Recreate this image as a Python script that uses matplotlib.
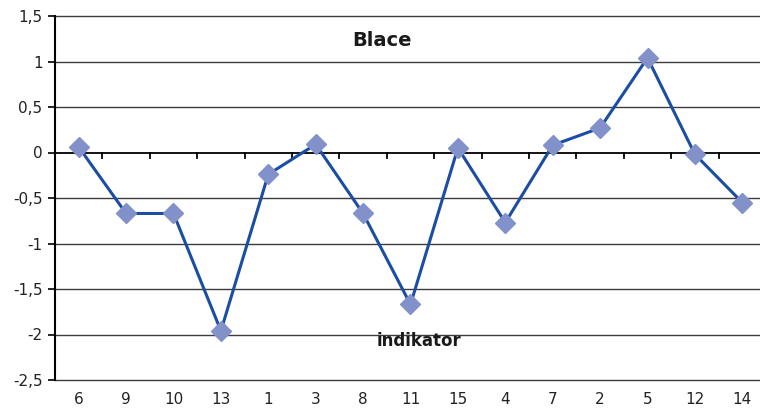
import matplotlib
matplotlib.use("Agg")
import matplotlib.pyplot as plt

# ─── Data ─────────────────────────────────────────────────────────────────────
categories = ["6", "9", "10", "13", "1", "3", "8", "11", "15", "4", "7", "2", "5", "12", "14"]
values = [0.06, -0.67, -0.67, -1.96, -0.24, 0.09, -0.67, -1.67, 0.05, -0.77, 0.08, 0.27, 1.04, -0.02, -0.55]
y_ticks = [-2.5, -2, -1.5, -1, -0.5, 0, 0.5, 1, 1.5]
y_labels = ["-2,5", "-2", "-1,5", "-1", "-0,5", "0", "0,5", "1", "1,5"]

LINE_COLOR = "#1B4DA3"
MARK_COLOR = "#8391CB"

plt.rcParams["font.family"] = ["DejaVu Sans"]

fig = plt.figure(figsize=(7.6, 4.08), dpi=100, facecolor="white")
W, H = 760, 408
# axes run slightly past the right edge of the figure, as in the reference
ax = fig.add_axes([55 / W, (H - 380) / H, 711 / W, (380 - 16) / H])

x = list(range(len(categories)))
ax.plot(x, values, color=LINE_COLOR, lw=2.2, marker="D", markersize=10,
        markerfacecolor=MARK_COLOR, markeredgecolor=MARK_COLOR, zorder=4)

ax.set_xlim(-0.5, len(categories) - 0.5)
ax.set_ylim(-2.5, 1.5)

# gridlines
for yv in y_ticks:
    if yv == 0:
        continue
    ax.axhline(yv, color="#3c3c3c", lw=1.0, zorder=1, clip_on=False)
ax.axhline(0, color="black", lw=1.3, zorder=2)

# category tick marks sit on the zero line
for b in range(1, len(categories)):
    ax.plot([b - 0.5, b - 0.5], [0, -0.06], color="black", lw=1.3, zorder=2, clip_on=False)

ax.set_yticks(y_ticks)
ax.set_yticklabels(y_labels)
ax.set_xticks(x)
ax.set_xticklabels(categories)
ax.tick_params(axis="y", direction="out", length=5, width=1.2, labelsize=11, pad=4,
               labelcolor="#222222")
ax.tick_params(axis="x", length=0, labelsize=11, pad=9, labelcolor="#222222")

for side in ("top", "right", "bottom"):
    ax.spines[side].set_visible(False)
ax.spines["left"].set_linewidth(1.5)

ax.text(382 / W, 1 - 40 / H, "Blace", transform=fig.transFigure, ha="center", va="center",
        fontsize=14, fontweight="bold", color="#1a1a1a")
ax.text(419 / W, 1 - 341 / H, "indikator", transform=fig.transFigure, ha="center", va="center",
        fontsize=12, fontweight="bold", color="#1a1a1a")

fig.savefig("out.png", dpi=100, facecolor="white")
